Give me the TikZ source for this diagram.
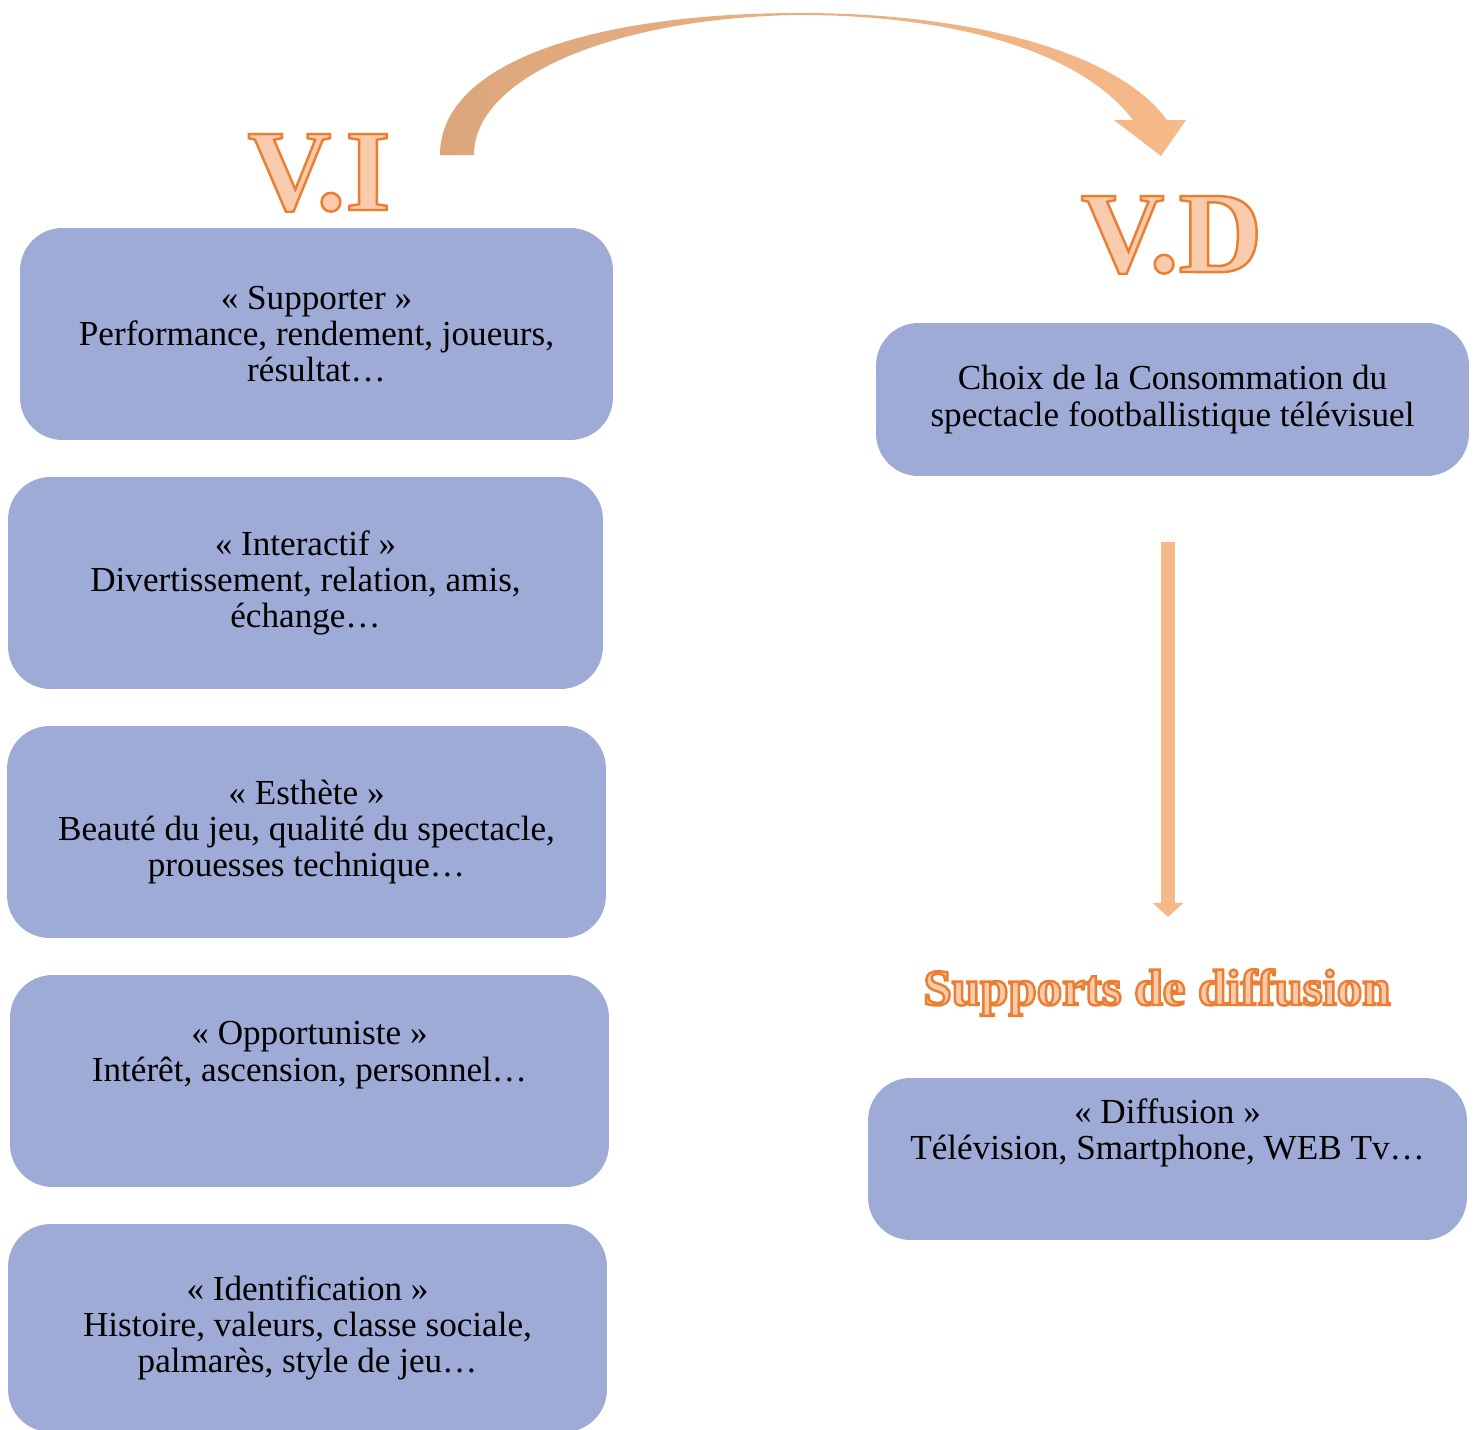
\documentclass[tikz,border=0pt]{standalone}
\usepackage{fontspec}
\setmainfont{Liberation Serif}
\usepackage{xcolor}
\usetikzlibrary{positioning, arrows.meta, shapes, calc}

\definecolor{boxblue}{RGB}{157,171,214}
\definecolor{arrowtan}{RGB}{220,166,124}
\definecolor{arrowpeach}{RGB}{246,185,137}

% texte creux : remplissage peche, contour orange
\newcommand{\vtitre}[1]{\special{pdf:literal direct q 2 Tr 1.4 w 0.929 0.490 0.192 RG 0.973 0.796 0.678 rg}#1\special{pdf:literal direct Q}}
\newcommand{\vide}{\rule[-13pt]{0pt}{13pt}}

\tikzset{
  profil/.style={fill=boxblue, rounded corners=0.85cm, align=center, inner sep=0pt,
    font=\fontsize{20}{20.7}\selectfont},
  titre/.style={inner sep=0pt, anchor=base, font=\fontsize{66}{66}\selectfont\bfseries},
  soustitre/.style={inner sep=0pt, anchor=base, font=\fontsize{29}{29}\selectfont\bfseries},
  fleche/.style={draw=arrowpeach, line width=7.9pt, -{Triangle[width=17pt, length=8pt]}},
}

\begin{document}
\begin{tikzpicture}[x=0.02cm, y=-0.02cm]
  \useasboundingbox (0,0) rectangle (1478,1430);
  % Titres
  \node[titre] (vi) at (319,210) {\vtitre{V.I}};
  \node[titre] (vd) at (1171.5,272) {\vtitre{V.D}};
  \node[soustitre] (supports) at (1157,1005) {\vtitre{Supports de diffusion}};
  % Fleche courbe V.I -> V.D
  \shade[left color=arrowtan, right color=arrowpeach]
    (440,155) .. controls (440,60) and (600,13) .. (800,13)
    .. controls (980,13) and (1120,55) .. (1167,120)
    -- (1186,120) -- (1161,156) -- (1114,120) -- (1133,120)
    .. controls (1080,50) and (950,15) .. (800,15)
    .. controls (620,17) and (474,75) .. (474,155) -- cycle;
  % Variables independantes (profils)
  \node[profil, minimum width=11.86cm, minimum height=4.24cm] (supporter) at (316.5,334)
    {« Supporter »\\ Performance, rendement, joueurs,\\ résultat…};
  \node[profil, minimum width=11.9cm, minimum height=4.24cm] (interactif) at (305.5,583)
    {« Interactif »\\ Divertissement, relation, amis,\\ échange…};
  \node[profil, minimum width=11.98cm, minimum height=4.24cm] (esthete) at (306.5,832)
    {« Esthète »\\ Beauté du jeu, qualité du spectacle,\\ prouesses technique…};
  \node[profil, minimum width=11.98cm, minimum height=4.24cm] (opportuniste) at (309.5,1081)
    {« Opportuniste »\\ Intérêt, ascension, personnel…\\ \vide};
  \node[profil, minimum width=11.98cm, minimum height=4.16cm] (identification) at (307.5,1328)
    {« Identification »\\ Histoire, valeurs, classe sociale,\\ palmarès, style de jeu…};
  % Variable dependante
  \node[profil, minimum width=11.86cm, minimum height=3.06cm] (choix) at (1172.5,399.5)
    {Choix de la Consommation du\\ spectacle footballistique télévisuel};
  \node[profil, minimum width=11.98cm, minimum height=3.24cm] (diffusion) at (1167.5,1159)
    {« Diffusion »\\ Télévision, Smartphone, WEB Tv…\\ \vide};
  % Fleche verticale
  \coordinate (vhaut) at (1168,542);
  \coordinate (vbas) at (1168,917);
  \draw[fleche] (vhaut) -- (vbas);
\end{tikzpicture}
\end{document}
